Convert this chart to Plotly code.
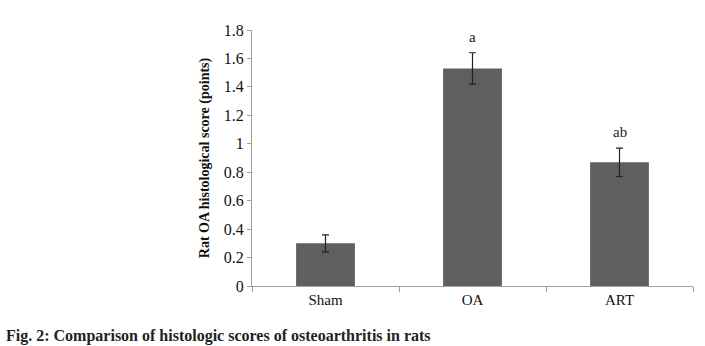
import plotly.graph_objects as go

categories = ["Sham", "OA", "ART"]
values = [0.30, 1.53, 0.87]
errors = [0.06, 0.11, 0.10]
labels = ["", "a", "ab"]
y_ticks = [0, 0.2, 0.4, 0.6, 0.8, 1, 1.2, 1.4, 1.6, 1.8]

font = "Liberation Serif"

fig = go.Figure()
fig.add_trace(go.Bar(
    x=categories, y=values,
    marker=dict(color="#5f5f5f", line=dict(width=0)),
    error_y=dict(type="data", array=errors, color="#222222", thickness=1.2, width=3.5),
    width=0.4,
))

for c, v, e, t in zip(categories, values, errors, labels):
    if t:
        fig.add_annotation(x=c, y=v + e, text=t, showarrow=False, yanchor="bottom",
                           yshift=6, font=dict(family=font, size=15, color="#222"))

fig.add_annotation(xref="paper", yref="paper", x=-0.562, y=-0.195, xanchor="left",
                   yanchor="middle", showarrow=False,
                   text="<b>Fig. 2: Comparison of histologic scores of osteoarthritis in rats</b>",
                   font=dict(family=font, size=16, color="#222"))

fig.update_layout(
    width=705, height=346,
    margin=dict(l=252, r=12, t=30, b=60),
    paper_bgcolor="white", plot_bgcolor="white",
    showlegend=False,
    font=dict(family=font, size=15, color="#111"),
)
fig.update_yaxes(range=[0, 1.8], tickvals=y_ticks, ticktext=[str(t) for t in y_ticks],
                 showgrid=False, showline=True, linecolor="#a0a0a0", linewidth=1,
                 ticks="outside", ticklen=4, tickcolor="#a0a0a0",
                 title=dict(text="<b>Rat OA histological score (points)</b>", standoff=10,
                            font=dict(family=font, size=14)),
                 tickfont=dict(family=font, size=16), zeroline=False)
fig.update_xaxes(showgrid=False, showline=True, linecolor="#a0a0a0", linewidth=1,
                 ticks="outside", ticklen=5, tickcolor="#a0a0a0", tickson="boundaries",
                 tickfont=dict(family=font, size=15))

fig.write_html("out.html")
